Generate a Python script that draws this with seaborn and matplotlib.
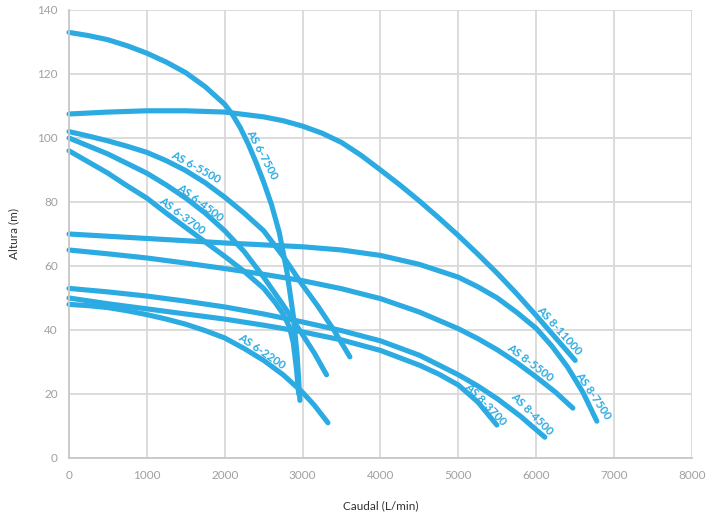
import pandas as pd
import matplotlib as mpl
import matplotlib.pyplot as plt
import seaborn as sns

# Curvas de bombas: caudal (L/min) y altura (m)
modelos = ['AS 6-7500', 'AS 8-11000', 'AS 6-5500', 'AS 6-4500', 'AS 6-3700',
           'AS 8-7500', 'AS 8-5500', 'AS 8-4500', 'AS 8-3700', 'AS 6-2200']

q_6_7500 = [0, 250, 500, 750, 1000, 1250, 1500, 1750, 2000, 2100, 2200, 2300, 2400,
            2500, 2600, 2700, 2800, 2880, 2930, 2965]
h_6_7500 = [133, 132, 130.7, 128.8, 126.5, 123.7, 120.4, 116, 110.5, 107.3, 103.2, 98.2, 92.5,
            86.2, 79.2, 70.5, 58, 44.5, 32, 18]

q_8_11000 = [0, 500, 1000, 1500, 2000, 2500, 2750, 3000, 3250, 3500, 3750, 4000, 4250,
             4500, 4750, 5000, 5250, 5500, 5750, 6000, 6250, 6500]
h_8_11000 = [107.5, 108.1, 108.5, 108.5, 108.1, 106.6, 105.4, 103.7, 101.5, 98.6, 94.6, 90, 85.3,
             80.3, 75, 69.5, 63.7, 57.7, 51.3, 44.5, 37.5, 30.5]

q_6_5500 = [0, 250, 500, 750, 1000, 1250, 1500, 1750, 2000, 2250, 2500, 2750, 3000,
            3200, 3400, 3607]
h_6_5500 = [102, 100.6, 99.1, 97.4, 95.5, 92.9, 89.8, 86, 81.5, 76.5, 71, 63, 54,
            47.3, 40, 31.6]

q_6_4500 = [0, 250, 500, 750, 1000, 1250, 1500, 1750, 2000, 2250, 2500, 2750, 3000,
            3150, 3307]
h_6_4500 = [100, 97.5, 95, 92, 89, 85.3, 81.2, 76.5, 71, 64.5, 56.5, 47.8, 38.5,
            32.8, 26]

q_6_3700 = [0, 250, 500, 750, 1000, 1250, 1500, 1750, 2000, 2250, 2500, 2650, 2750,
            2830, 2880, 2920, 2950]
h_6_3700 = [96, 92.5, 89, 85, 81.2, 76.5, 72, 67.5, 63, 58.3, 53, 48.5, 45,
            41, 36, 28, 20]

q_8_7500 = [0, 500, 1000, 1500, 2000, 2500, 3000, 3500, 4000, 4500, 5000, 5250, 5500,
            5750, 6000, 6200, 6400, 6600, 6778]
h_8_7500 = [70, 69.3, 68.6, 67.9, 67.2, 66.6, 66, 65, 63.3, 60.5, 56.5, 53.5, 50,
            45.5, 40.5, 35, 28.5, 20.5, 11.5]

q_8_5500 = [0, 500, 1000, 1500, 2000, 2500, 3000, 3500, 4000, 4500, 5000, 5250, 5500,
            5750, 6000, 6250, 6470]
h_8_5500 = [65, 63.8, 62.5, 60.9, 59.2, 57.4, 55.4, 52.9, 49.8, 45.6, 40.4, 37.3, 33.8,
            29.8, 25.3, 20.5, 15.6]

q_8_4500 = [0, 500, 1000, 1500, 2000, 2500, 3000, 3500, 4000, 4500, 5000, 5250, 5500,
            5800, 6110]
h_8_4500 = [53, 51.9, 50.6, 49, 47.2, 45, 42.5, 39.8, 36.6, 32.1, 26, 22.5, 18.5,
            13, 6.5]

q_8_3700 = [0, 500, 1000, 1500, 2000, 2500, 3000, 3500, 4000, 4500, 4750, 5000, 5250, 5494]
h_8_3700 = [50, 48.2, 46.6, 45, 43.4, 41.5, 39.4, 36.9, 33.6, 29, 26.2, 22.8, 17.5, 10.3]

q_6_2200 = [0, 250, 500, 750, 1000, 1250, 1500, 1750, 2000, 2250, 2500, 2750, 3000,
            3150, 3325]
h_6_2200 = [48, 47.6, 47, 46, 44.8, 43.4, 41.8, 39.8, 37.5, 34.2, 30.5, 26, 20.5,
            16.5, 11]

caudales = [q_6_7500, q_8_11000, q_6_5500, q_6_4500, q_6_3700,
            q_8_7500, q_8_5500, q_8_4500, q_8_3700, q_6_2200]
alturas = [h_6_7500, h_8_11000, h_6_5500, h_6_4500, h_6_3700,
           h_8_7500, h_8_5500, h_8_4500, h_8_3700, h_6_2200]

x_ticks = [0, 1000, 2000, 3000, 4000, 5000, 6000, 7000, 8000]
y_ticks = [0, 20, 40, 60, 80, 100, 120, 140]

# posicion y giro de las etiquetas de cada curva
etiquetas = {
    'AS 6-7500': (2478, 95.0, -62),
    'AS 8-11000': (6290, 39.7, -48),
    'AS 6-5500': (1630, 90.9, -29),
    'AS 6-4500': (1682, 79.7, -37),
    'AS 6-3700': (1450, 75.6, -37),
    'AS 8-7500': (6726, 19.4, -56),
    'AS 8-5500': (5918, 29.7, -37),
    'AS 8-4500': (5944, 13.75, -45),
    'AS 8-3700': (5353, 16.9, -46),
    'AS 6-2200': (2478, 33.4, -34),
}

AZUL = '#2BABE2'


def main():
    filas = []
    for m, qs, hs in zip(modelos, caudales, alturas):
        for i, (q, h) in enumerate(zip(qs, hs)):
            filas.append({'modelo': m, 'orden': i, 'caudal': q, 'altura': h})
    df = pd.DataFrame(filas)

    sns.set_style('white')
    mpl.rcParams['font.family'] = ['Lato', 'DejaVu Sans']

    fig = plt.figure(figsize=(7.24, 5.15), dpi=100)
    ax = fig.add_axes([0.0953, 0.1107, 0.8605, 0.8699])

    sns.lineplot(data=df, x='caudal', y='altura', units='modelo', estimator=None,
                 sort=False, color=AZUL, linewidth=3.7, ax=ax, legend=False)
    for ln in ax.lines:
        ln.set_solid_capstyle('round')
        ln.set_solid_joinstyle('round')
        ln.set_clip_on(False)

    for m, (x, y, r) in etiquetas.items():
        ax.text(x, y, m, rotation=r, rotation_mode='anchor', ha='center', va='center',
                color=AZUL, fontsize=8.3, fontweight='bold')

    ax.set_xlim(0, 8000)
    ax.set_ylim(0, 140)
    ax.set_xticks(x_ticks)
    ax.set_yticks(y_ticks)
    ax.grid(True, color='#D9D9D9', linewidth=1.3)
    ax.set_axisbelow(True)
    for s in ['top', 'right']:
        ax.spines[s].set_visible(False)
    for s in ['left', 'bottom']:
        ax.spines[s].set_color('#C8C8C8')
        ax.spines[s].set_linewidth(1.3)
    ax.tick_params(axis='both', length=0, labelsize=8.5, labelcolor='#A0A0A0')
    ax.tick_params(axis='x', pad=9)
    ax.tick_params(axis='y', pad=8)

    ax.set_xlabel('Caudal (L/min)', fontsize=8.5, color='#333333')
    ax.set_ylabel('Altura (m)', fontsize=8.5, color='#333333')
    ax.xaxis.set_label_coords(0.5, -0.095)
    ax.yaxis.set_label_coords(-0.079, 0.5)

    fig.savefig('out.png', dpi=100)


if __name__ == '__main__':
    main()
